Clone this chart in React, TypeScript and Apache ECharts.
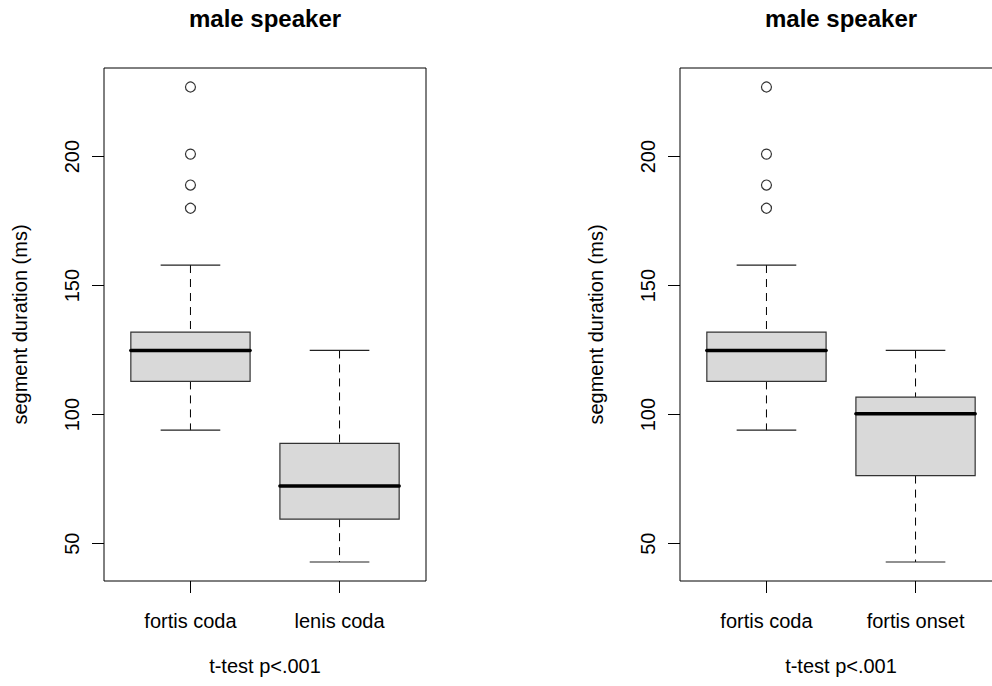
import React, { useEffect, useRef } from "react";
import * as echarts from "echarts";

const panelTitles = ["male speaker", "male speaker"];
const leftCategories = ["fortis coda", "lenis coda"];
const rightCategories = ["fortis coda", "fortis onset"];
// [lower whisker, Q1, median, Q3, upper whisker]
const fortisCoda = [94, 112.9, 124.9, 132, 158];
const lenisCoda = [42.9, 59.5, 72.4, 88.9, 124.9];
const fortisOnset = [42.9, 76.4, 100.4, 106.8, 124.9];
const fortisCodaOutliers = [180, 189, 201, 227];
const yTicks = [50, 100, 150, 200];
const yAxisTitle = "segment duration (ms)";
const xAxisTitle = "t-test p<.001";

const FONT = "'Liberation Sans', Arial, Helvetica, sans-serif";

export default function App() {
  const ref = useRef<HTMLDivElement>(null);

  useEffect(() => {
    if (!ref.current) return;
    const chart = echarts.init(ref.current, undefined, { renderer: "svg" });

    const allVals = [...fortisCoda, ...lenisCoda, ...fortisOnset, ...fortisCodaOutliers];
    const lo = Math.min(...allVals);
    const hi = Math.max(...allVals);
    const ext = (hi - lo) * 0.04;
    const yMin = lo - ext;
    const yMax = hi + ext;
    const xMin = 0.5 - 0.04 * 2;
    const xMax = 2.5 + 0.04 * 2;

    const panels = [
      { cats: leftCategories, boxes: [fortisCoda, lenisCoda], left: 104 },
      { cats: rightCategories, boxes: [fortisCoda, fortisOnset], left: 680 },
    ];

    const renderItem = (params: any, api: any) => {
      const x = api.value(0);
      const wLo = api.value(1);
      const q1 = api.value(2);
      const med = api.value(3);
      const q3 = api.value(4);
      const wHi = api.value(5);
      const half = 0.4;
      const st = 0.2;
      const c = api.coord([x, med]);
      const yLo = api.coord([x, wLo])[1];
      const yQ1 = api.coord([x, q1])[1];
      const yQ3 = api.coord([x, q3])[1];
      const yHi = api.coord([x, wHi])[1];
      const xl = api.coord([x - half, med])[0];
      const xr = api.coord([x + half, med])[0];
      const sl = api.coord([x - st, med])[0];
      const sr = api.coord([x + st, med])[0];
      const dash = { stroke: "#000", lineWidth: 1, lineDash: [8, 6] };
      const solid = { stroke: "#222", lineWidth: 1.2 };
      return {
        type: "group",
        children: [
          { type: "line", shape: { x1: c[0], y1: yHi, x2: c[0], y2: yQ3 }, style: dash },
          { type: "line", shape: { x1: c[0], y1: yQ1, x2: c[0], y2: yLo }, style: dash },
          { type: "line", shape: { x1: sl, y1: yHi, x2: sr, y2: yHi }, style: solid },
          { type: "line", shape: { x1: sl, y1: yLo, x2: sr, y2: yLo }, style: solid },
          {
            type: "rect",
            shape: { x: xl, y: yQ3, width: xr - xl, height: yQ1 - yQ3 },
            style: { fill: "#d9d9d9", stroke: "#333", lineWidth: 1.2 },
          },
          {
            type: "line",
            shape: { x1: xl, y1: c[1], x2: xr, y2: c[1] },
            style: { stroke: "#000", lineWidth: 3.5, lineCap: "round" },
          },
        ],
      };
    };

    const option: any = {
      animation: false,
      backgroundColor: "#fff",
      textStyle: { fontFamily: FONT },
      title: panels.map((p, i) => ({
        text: panelTitles[i],
        left: p.left + 161,
        top: 6,
        textAlign: "center",
        padding: 0,
        textStyle: { fontFamily: FONT, fontSize: 24, fontWeight: "bold", color: "#000" },
      })),
      grid: panels.map((p) => ({
        left: p.left,
        top: 68,
        width: 322,
        height: 513,
        show: true,
        borderColor: "#000",
        borderWidth: 1,
        backgroundColor: "transparent",
        outerBoundsMode: "none",
        containLabel: false,
      })),
      xAxis: panels.map((p, i) => ({
        type: "value",
        gridIndex: i,
        min: xMin,
        max: xMax,
        splitLine: { show: false },
        axisLine: { show: false },
        axisTick: { show: true, customValues: [1, 2], length: 12, lineStyle: { color: "#000" } },
        axisLabel: {
          customValues: [1, 2],
          formatter: (v: number) => p.cats[Math.round(v) - 1] ?? "",
          fontSize: 20,
          color: "#000",
          margin: 30,
          fontFamily: FONT,
        },
        name: xAxisTitle,
        nameLocation: "middle",
        nameGap: 75,
        nameTextStyle: { fontSize: 20, color: "#000", fontFamily: FONT },
      })),
      yAxis: panels.map((p, i) => ({
        type: "value",
        gridIndex: i,
        min: yMin,
        max: yMax,
        splitLine: { show: false },
        axisLine: { show: false },
        axisTick: { show: true, customValues: yTicks, length: 12, lineStyle: { color: "#000" } },
        axisLabel: {
          customValues: yTicks,
          rotate: 90,
          fontSize: 20,
          color: "#000",
          margin: 22,
          fontFamily: FONT,
        },
        name: yAxisTitle,
        nameLocation: "middle",
        nameRotate: 90,
        nameGap: 74,
        nameTextStyle: { fontSize: 20, color: "#000", fontFamily: FONT },
      })),
      series: [
        ...panels.map((p, i) => ({
          type: "custom",
          xAxisIndex: i,
          yAxisIndex: i,
          renderItem,
          data: p.boxes.map((b, j) => [j + 1, ...b]),
          silent: true,
        })),
        ...panels.map((p, i) => ({
          type: "scatter",
          xAxisIndex: i,
          yAxisIndex: i,
          symbol: "circle",
          symbolSize: 10,
          itemStyle: { color: "transparent", borderColor: "#000", borderWidth: 1.2 },
          data: fortisCodaOutliers.map((v) => [1, v]),
          silent: true,
        })),
      ],
    };

    chart.setOption(option);
    return () => chart.dispose();
  }, []);

  return (
    <div
      ref={ref}
      style={{ position: "fixed", left: 0, top: 0, width: 992, height: 686, background: "#fff" }}
    />
  );
}
